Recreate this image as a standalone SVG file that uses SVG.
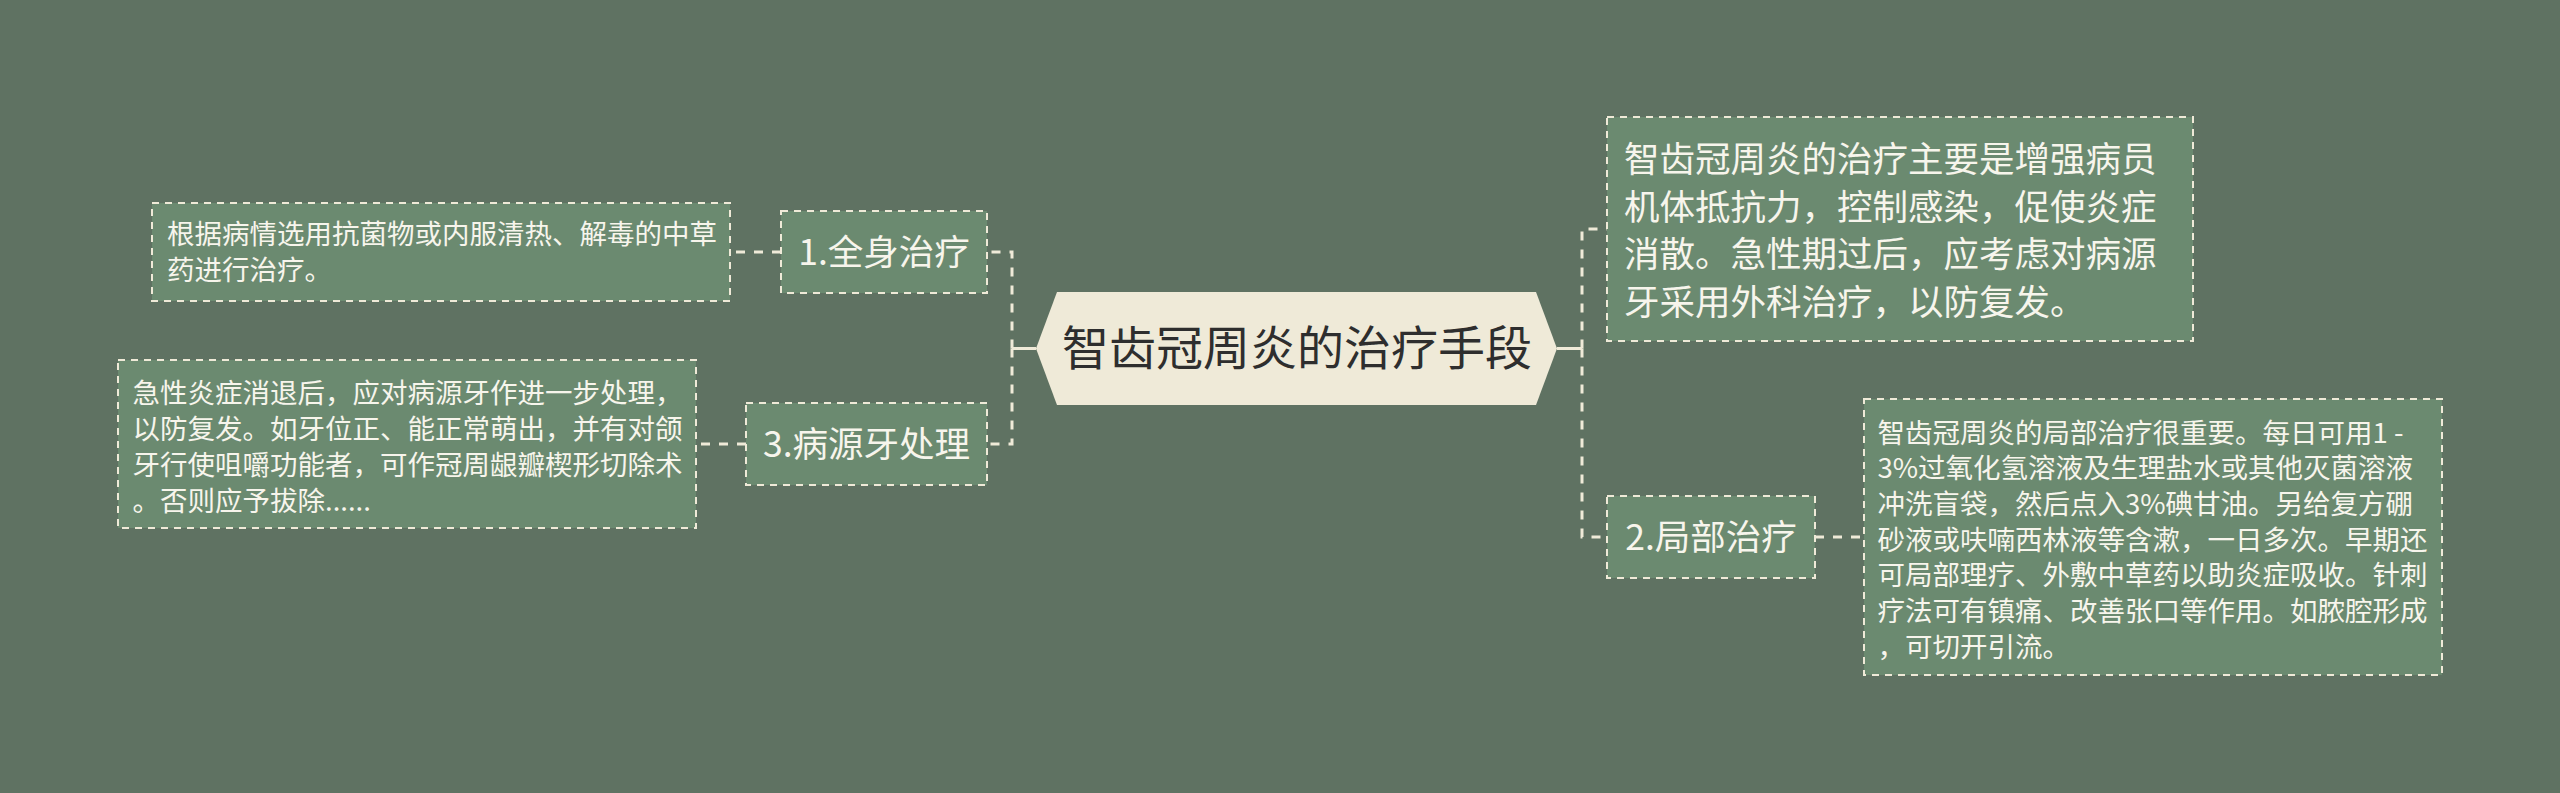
<svg xmlns="http://www.w3.org/2000/svg" width="2560" height="793" viewBox="0 0 2560 793">
<style>
.bg{fill:#5f7262}
.box{fill:#6b8a70;stroke:#efead8;stroke-width:2;stroke-dasharray:7 6}
.conn{fill:none;stroke:#efead8;stroke-width:3;stroke-dasharray:9 9}
.solid{fill:none;stroke:#efead8;stroke-width:3}
.t{font-family:"Noto Sans CJK SC","Noto Sans",sans-serif;fill:#f7f5ec}
.s{font-size:27.5px}
.m{font-size:35.5px}
.title{font-family:"Noto Sans CJK SC","Noto Sans",sans-serif;font-size:47px;fill:#2e2e2e}
</style>
<rect class="bg" x="0" y="0" width="2560" height="793"/>
<g id="connectors">
<path class="solid" d="M1036 348.5 H1012"/>
<path class="conn" d="M1012 348.5 V252 H987"/>
<path class="conn" d="M1012 348.5 V444 H987"/>
<path class="solid" d="M1557 348.5 H1582"/>
<path class="conn" d="M1582 348.5 V229 H1607"/>
<path class="conn" d="M1582 348.5 V537 H1607"/>
<path class="conn" d="M781 252 H731"/>
<path class="conn" d="M746 444 H696"/>
<path class="conn" d="M1815 537 H1864"/>
</g>
<g id="root">
<polygon points="1036,348.5 1057,292 1536,292 1557,348.5 1536,405 1057,405" fill="#efead8"/>
<text class="title" x="1297" y="365" text-anchor="middle">智齿冠周炎的治疗手段</text>
</g>
<g id="n1">
<rect class="box" x="781" y="211" width="206" height="82"/>
<text class="t m" x="884" y="265" text-anchor="middle">1.全身治疗</text>
</g>
<g id="n1a">
<rect class="box" x="152" y="203" width="578" height="98"/>
<text class="t s" x="167"><tspan x="167" y="244.3">根据病情选用抗菌物或内服清热、解毒的中草</tspan><tspan x="167" y="280.3">药进行治疗。</tspan></text>
</g>
<g id="n3">
<rect class="box" x="746" y="403" width="241" height="82"/>
<text class="t m" x="866.5" y="457" text-anchor="middle">3.病源牙处理</text>
</g>
<g id="n3a">
<rect class="box" x="118" y="360" width="578" height="168"/>
<text class="t s"><tspan x="132.5" y="403.3">急性炎症消退后，应对病源牙作进一步处理，</tspan><tspan x="132.5" y="439.3">以防复发。如牙位正、能正常萌出，并有对颌</tspan><tspan x="132.5" y="475.3">牙行使咀嚼功能者，可作冠周龈瓣楔形切除术</tspan><tspan x="132.5" y="511.3">。否则应予拔除......</tspan></text>
</g>
<g id="n0">
<rect class="box" x="1607" y="117" width="586" height="224"/>
<text class="t m"><tspan x="1624" y="172.3">智齿冠周炎的治疗主要是增强病员</tspan><tspan x="1624" y="219.8">机体抵抗力，控制感染，促使炎症</tspan><tspan x="1624" y="267.3">消散。急性期过后，应考虑对病源</tspan><tspan x="1624" y="314.8">牙采用外科治疗，以防复发。</tspan></text>
</g>
<g id="n2">
<rect class="box" x="1607" y="496" width="208" height="82"/>
<text class="t m" x="1711" y="550" text-anchor="middle">2.局部治疗</text>
</g>
<g id="n2a">
<rect class="box" x="1864" y="399" width="578" height="276"/>
<text class="t s"><tspan x="1877.5" y="442.5">智齿冠周炎的局部治疗很重要。每日可用1 -</tspan><tspan x="1877.5" y="478.2">3%过氧化氢溶液及生理盐水或其他灭菌溶液</tspan><tspan x="1877.5" y="513.9">冲洗盲袋，然后点入3%碘甘油。另给复方硼</tspan><tspan x="1877.5" y="549.6">砂液或呋喃西林液等含漱，一日多次。早期还</tspan><tspan x="1877.5" y="585.3">可局部理疗、外敷中草药以助炎症吸收。针刺</tspan><tspan x="1877.5" y="621">疗法可有镇痛、改善张口等作用。如脓腔形成</tspan><tspan x="1877.5" y="656.7">，可切开引流。</tspan></text>
</g>
</svg>
